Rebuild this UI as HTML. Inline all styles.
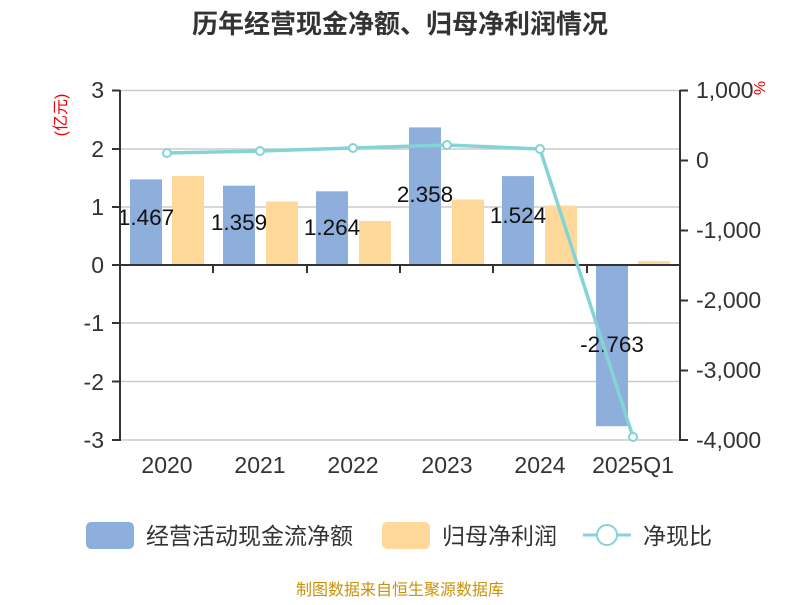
<!DOCTYPE html>
<html><head><meta charset="utf-8"><style>
body{margin:0;background:#fff;}
svg text{font-family:"Liberation Sans","Noto Sans CJK SC",sans-serif;}
</style></head><body>
<svg width="800" height="600" xmlns="http://www.w3.org/2000/svg">
<text x="400" y="33" text-anchor="middle" font-size="26" font-weight="bold" fill="#333">历年经营现金净额、归母净利润情况</text>
<g stroke="#ccc" stroke-width="1.5">
<line x1="120" x2="680" y1="90.5" y2="90.5"/>
<line x1="120" x2="680" y1="149" y2="149"/>
<line x1="120" x2="680" y1="207" y2="207"/>
<line x1="120" x2="680" y1="323" y2="323"/>
<line x1="120" x2="680" y1="381.5" y2="381.5"/>
<line x1="120" x2="680" y1="440" y2="440"/>
</g>
<g fill="#8eaedb">
<rect x="130" y="179.4" width="32" height="85.6"/>
<rect x="223" y="185.7" width="32" height="79.3"/>
<rect x="316" y="191.3" width="32" height="73.7"/>
<rect x="409" y="127.4" width="32" height="137.6"/>
<rect x="502" y="176.1" width="32" height="88.9"/>
<rect x="596" y="265" width="32" height="161.2"/>
</g>
<g fill="#ffd99a">
<rect x="172" y="176" width="32" height="89"/>
<rect x="266" y="201.5" width="32" height="63.5"/>
<rect x="359" y="221" width="32" height="44"/>
<rect x="452" y="199.5" width="32" height="65.5"/>
<rect x="545" y="205.5" width="32" height="59.5"/>
<rect x="638" y="261" width="32" height="4"/>
</g>
<g font-size="22.5" fill="#111" text-anchor="middle">
<text x="146" y="225">1.467</text>
<text x="239" y="230">1.359</text>
<text x="332" y="235">1.264</text>
<text x="425" y="202">2.358</text>
<text x="518" y="223">1.524</text>
<text x="612" y="352">-2.763</text>
</g>
<g stroke="#333" stroke-width="2" fill="none">
<line x1="120" y1="90" x2="120" y2="441"/>
<line x1="680" y1="90" x2="680" y2="441"/>
<line x1="119" y1="265" x2="681" y2="265"/>
<line x1="112" x2="120" y1="90.5" y2="90.5"/>
<line x1="112" x2="120" y1="149" y2="149"/>
<line x1="112" x2="120" y1="207" y2="207"/>
<line x1="112" x2="120" y1="265" y2="265"/>
<line x1="112" x2="120" y1="323" y2="323"/>
<line x1="112" x2="120" y1="381.5" y2="381.5"/>
<line x1="112" x2="120" y1="440" y2="440"/>
<line x1="680" x2="688" y1="90.5" y2="90.5"/>
<line x1="680" x2="688" y1="160.5" y2="160.5"/>
<line x1="680" x2="688" y1="230.5" y2="230.5"/>
<line x1="680" x2="688" y1="300.5" y2="300.5"/>
<line x1="680" x2="688" y1="370.5" y2="370.5"/>
<line x1="680" x2="688" y1="440" y2="440"/>
<line x1="213" x2="213" y1="265" y2="273"/>
<line x1="307" x2="307" y1="265" y2="273"/>
<line x1="400" x2="400" y1="265" y2="273"/>
<line x1="493" x2="493" y1="265" y2="273"/>
<line x1="587" x2="587" y1="265" y2="273"/>
</g>
<g font-size="23" fill="#333" text-anchor="end">
<text x="104" y="98">3</text>
<text x="104" y="157">2</text>
<text x="104" y="215">1</text>
<text x="104" y="273">0</text>
<text x="104" y="331">-1</text>
<text x="104" y="390">-2</text>
<text x="104" y="448">-3</text>
</g>
<g font-size="23" fill="#333" text-anchor="start">
<text x="696" y="98">1,000</text>
<text x="696" y="168">0</text>
<text x="696" y="238">-1,000</text>
<text x="696" y="308">-2,000</text>
<text x="696" y="378">-3,000</text>
<text x="696" y="448">-4,000</text>
</g>
<g font-size="23" fill="#333" text-anchor="middle">
<text x="167" y="473">2020</text>
<text x="260" y="473">2021</text>
<text x="353" y="473">2022</text>
<text x="447" y="473">2023</text>
<text x="540" y="473">2024</text>
<text x="633" y="473">2025Q1</text>
</g>
<text transform="translate(66,115) rotate(-90)" font-size="16" fill="#e00" text-anchor="middle">(亿元)</text>
<text transform="translate(754,88) rotate(90)" font-size="16" fill="#e00" text-anchor="middle">%</text>
<polyline points="167,153 260,151 353,148 447,145 540,149 633,437" fill="none" stroke="#84d3d6" stroke-width="3.5"/>
<g fill="#fff" stroke="#84d3d6" stroke-width="2">
<circle cx="167" cy="153" r="4"/><circle cx="260" cy="151" r="4"/><circle cx="353" cy="148" r="4"/>
<circle cx="447" cy="145" r="4"/><circle cx="540" cy="149" r="4"/><circle cx="633" cy="437" r="4"/>
</g>
<rect x="86" y="522" width="48" height="27" rx="5" fill="#8eaedb"/>
<text x="146" y="544" font-size="23" fill="#333">经营活动现金流净额</text>
<rect x="382" y="522" width="48" height="27" rx="5" fill="#ffd99a"/>
<text x="442" y="544" font-size="23" fill="#333">归母净利润</text>
<line x1="583" x2="631" y1="535" y2="535" stroke="#84d3d6" stroke-width="3"/>
<circle cx="607" cy="535" r="10" fill="#fff" stroke="#84d3d6" stroke-width="2"/>
<text x="643" y="544" font-size="23" fill="#333">净现比</text>
<text x="400" y="595" font-size="16" fill="#c8920a" text-anchor="middle">制图数据来自恒生聚源数据库</text>
</svg>
</body></html>
